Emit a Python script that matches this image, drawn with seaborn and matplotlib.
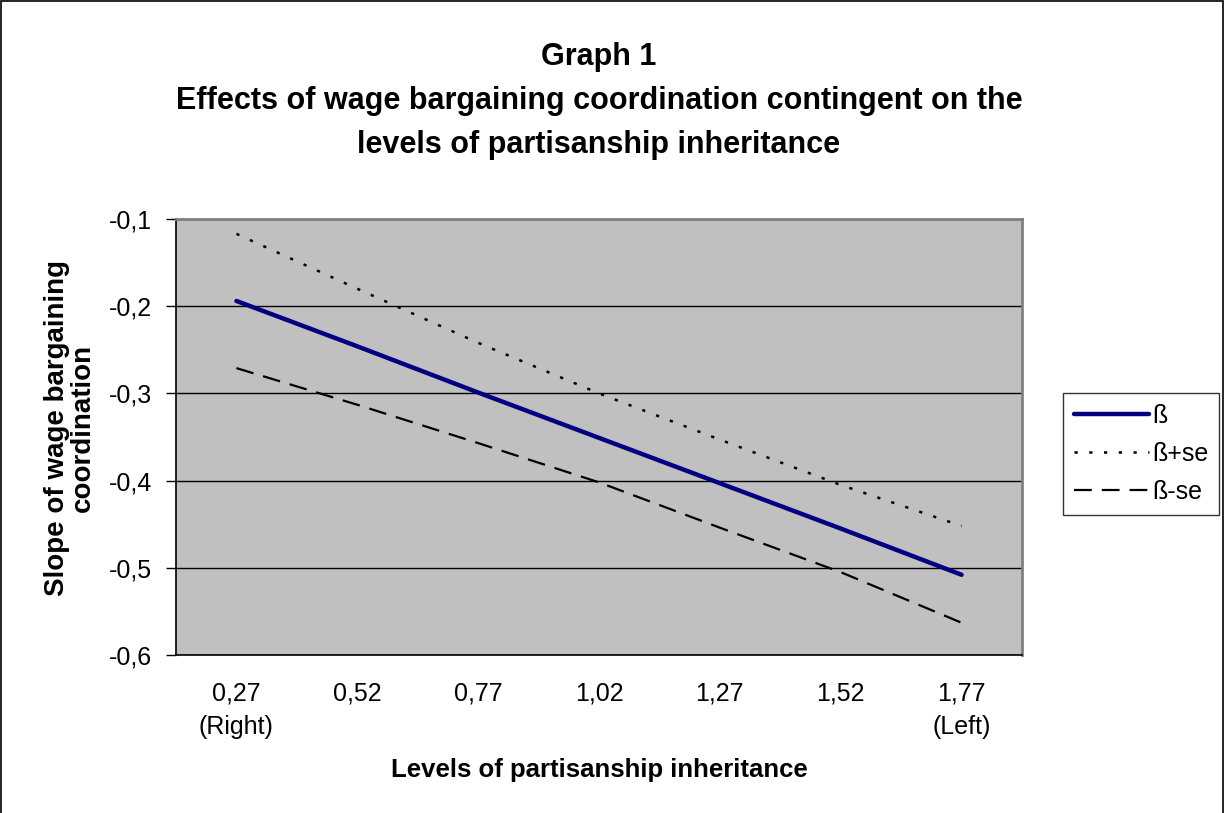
import numpy as np
import pandas as pd
import matplotlib
matplotlib.use("Agg")
import matplotlib.pyplot as plt
import seaborn as sns
from matplotlib.patches import Rectangle
from matplotlib.lines import Line2D

# data
levels = ["0,27\n(Right)", "0,52", "0,77", "1,02", "1,27", "1,52", "1,77\n(Left)"]
beta = [-0.194, -0.246, -0.299, -0.351, -0.403, -0.455, -0.508]
beta_plus_se = [-0.117, -0.180, -0.242, -0.300, -0.353, -0.405, -0.452]
beta_minus_se = [-0.271, -0.313, -0.357, -0.402, -0.454, -0.505, -0.563]
series_names = ["ß", "ß+se", "ß-se"]

df = pd.DataFrame({
    "pos": list(range(len(levels))) * 3,
    "value": beta + beta_plus_se + beta_minus_se,
    "series": [series_names[0]] * 7 + [series_names[1]] * 7 + [series_names[2]] * 7,
})

sns.set_style("white")
plt.rcParams["font.family"] = ["Liberation Sans", "DejaVu Sans"]
plt.rcParams["text.color"] = "black"
plt.rcParams["axes.labelcolor"] = "black"
plt.rcParams["xtick.color"] = "black"
plt.rcParams["ytick.color"] = "black"

fig = plt.figure(figsize=(12.25, 8.13), dpi=100)
ax = fig.add_axes([176 / 1225, 1 - 655 / 813, (1022 - 176) / 1225, (655 - 219) / 813])
ax.set_facecolor("#C0C0C0")

styles = {
    "ß": dict(color="#000080", lw=3.2, ls="-"),
    "ß+se": dict(color="black", lw=1.8, ls=(0, (1.3, 4.6))),
    "ß-se": dict(color="black", lw=1.6, ls=(0, (8, 4.5))),
}
for name in series_names:
    sub = df[df["series"] == name]
    sns.lineplot(data=sub, x="pos", y="value", ax=ax, legend=False,
                 color=styles[name]["color"], linewidth=styles[name]["lw"],
                 linestyle=styles[name]["ls"], solid_capstyle="round", zorder=3)

ax.set_xlim(-0.5, len(levels) - 0.5)
ax.set_ylim(-0.6, -0.1)
ax.set_yticks(np.arange(-0.6, -0.05, 0.1))
ax.set_yticklabels(["-0,6", "-0,5", "-0,4", "-0,3", "-0,2", "-0,1"], fontsize=18)
ax.yaxis.grid(True, color="black", lw=1)
ax.xaxis.grid(False)
ax.set_axisbelow(True)

ax.set_xticks(range(len(levels)))
ax.set_xticklabels(levels, fontsize=18, linespacing=1.5)
ax.set_xticks(np.arange(-0.5, len(levels), 1), minor=True)
ax.tick_params(axis="x", which="major", length=0, pad=19)
ax.tick_params(axis="x", which="minor", length=6, width=1, color="black", direction="out")
ax.tick_params(axis="y", length=7, width=1, color="black", direction="out", left=True, pad=10)

for side in ["top", "right"]:
    ax.spines[side].set_color("#808080")
    ax.spines[side].set_linewidth(2)
for side in ["left", "bottom"]:
    ax.spines[side].set_color("black")
    ax.spines[side].set_linewidth(1.2)

ax.set_xlabel("Levels of partisanship inheritance", fontsize=18.5, fontweight="bold")
ax.xaxis.set_label_coords(0.5, (655 - 758) / 436)
ax.set_ylabel("Slope of wage bargaining\ncoordination", fontsize=20, fontweight="bold",
              linespacing=1.0)
ax.yaxis.set_label_coords(-(176 - 96) / 846, (655 - 428) / 436)

fig.text(599 / 1225, 1 - 57 / 813, "Graph 1", ha="center", va="center", fontsize=22, fontweight="bold")
fig.text(599 / 1225, 1 - 101 / 813, "Effects of wage bargaining coordination contingent on the",
         ha="center", va="center", fontsize=22, fontweight="bold")
fig.text(599 / 1225, 1 - 145 / 813, "levels of partisanship inheritance",
         ha="center", va="center", fontsize=22, fontweight="bold")

handles = [Line2D([], [], color=styles[n]["color"], lw=styles[n]["lw"], ls=styles[n]["ls"]) for n in series_names]
leg = fig.legend(handles, series_names, loc="center left", bbox_to_anchor=(1058 / 1225, 1 - 454 / 813),
                 frameon=True, fancybox=False, edgecolor="black", fontsize=18,
                 handlelength=3.0, handletextpad=0.1, borderpad=0.45, borderaxespad=0.2,
                 labelspacing=0.55)
leg.get_frame().set_linewidth(1)

fig.patches.append(Rectangle((0.001, -0.01), 0.997, 1.0085, transform=fig.transFigure,
                             fill=False, edgecolor="black", lw=1.2))

fig.savefig("out.png", dpi=100)
